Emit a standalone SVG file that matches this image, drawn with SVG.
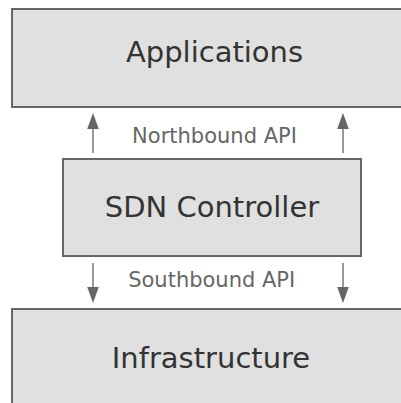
<svg xmlns="http://www.w3.org/2000/svg" width="401" height="403" viewBox="0 0 401 403">
  <defs>
    <style>
      .box { fill: #e0e0e0; stroke: #666; stroke-width: 2; }
      .title { font-family: "DejaVu Sans", Verdana, sans-serif; font-size: 29px; fill: #333; text-anchor: middle; }
      .api { font-family: "DejaVu Sans", Verdana, sans-serif; font-size: 21px; fill: #666; text-anchor: middle; }
      .link { stroke: #777; stroke-width: 1.5; fill: none; }
    </style>
    <marker id="head" viewBox="0 0 12 16" refX="12" refY="6" markerWidth="16" markerHeight="12" markerUnits="userSpaceOnUse" orient="auto">
      <path d="M0,0 L16,6 L0,12 Z" fill="#666"/>
    </marker>
  </defs>

  <g id="applications">
    <rect class="box" x="12" y="9" width="400" height="98"/>
    <text class="title" x="214.5" y="62">Applications</text>
  </g>

  <g id="sdn-controller">
    <rect class="box" x="63" y="159" width="298" height="97"/>
    <text class="title" x="212" y="217">SDN Controller</text>
  </g>

  <g id="infrastructure">
    <rect class="box" x="12" y="309" width="400" height="110"/>
    <text class="title" x="211" y="368">Infrastructure</text>
  </g>

  <g id="connectors">
    <path d="M93,153 L93,126" class="link"/>
    <polygon points="93,113 87.2,129 98.8,129" fill="#666"/>
    <path d="M343,153 L343,126" class="link"/>
    <polygon points="343,113 337.2,129 348.8,129" fill="#666"/>
    <text class="api" x="214.5" y="142.5">Northbound API</text>

    <path d="M93,263 L93,290" class="link"/>
    <polygon points="93,303 87.2,287 98.8,287" fill="#666"/>
    <path d="M343,263 L343,290" class="link"/>
    <polygon points="343,303 337.2,287 348.8,287" fill="#666"/>
    <text class="api" x="211.7" y="287.3">Southbound API</text>
  </g>
</svg>
